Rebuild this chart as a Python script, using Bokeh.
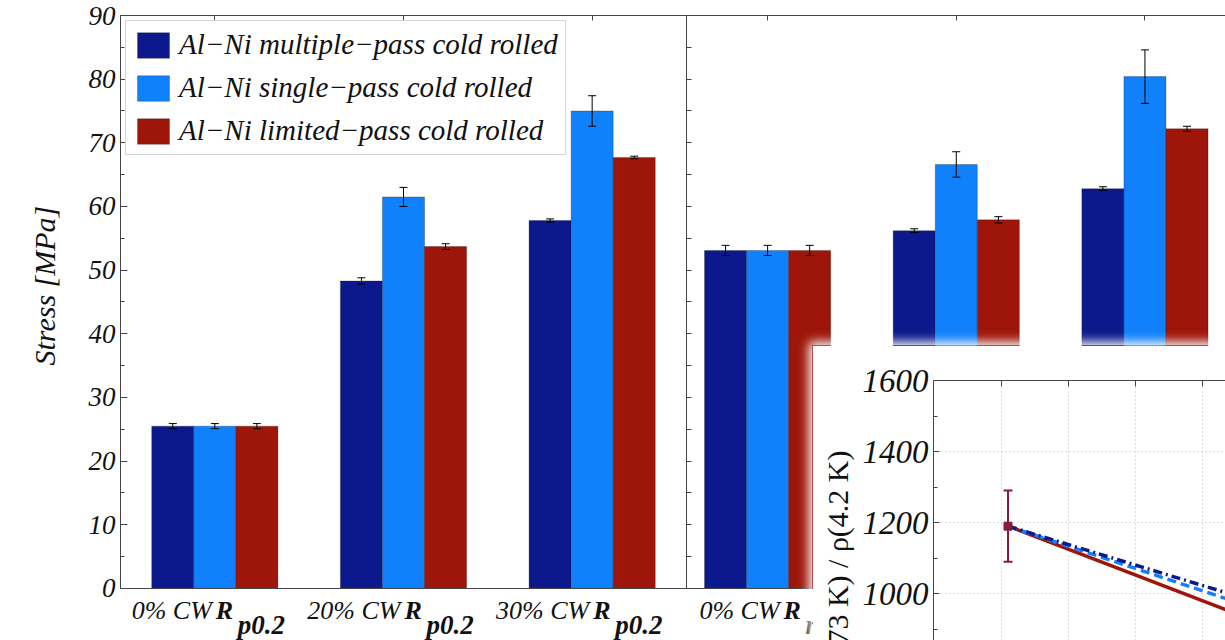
import numpy as np
from bokeh.plotting import figure
from bokeh.models import (Range1d, LinearAxis, FixedTicker, SingleIntervalTicker, ColumnDataSource,
                          Whisker, TeeHead, Span, LabelSet, Title, Grid, GridBox, CustomJSTickFormatter)
from bokeh.embed import file_html
from bokeh.resources import INLINE

FONT = "Liberation Serif"

# ---------------- data ----------------
cw_levels = ["0% CW", "20% CW", "30% CW"]
strength_sub = ["p0.2", "m"]          # R_p0.2 (left panel), R_m (right panel)
series_names = ["Al\u2212Ni multiple\u2212pass cold rolled",
                "Al\u2212Ni single\u2212pass cold rolled",
                "Al\u2212Ni limited\u2212pass cold rolled"]
series_colors = ["#0c198c", "#1080fb", "#9e160a"]

multi_vals = [25.5, 48.3, 57.8, 53.1, 56.2, 62.8]
single_vals = [25.5, 61.5, 75.0, 53.1, 66.6, 80.4]
limited_vals = [25.5, 53.7, 67.7, 53.1, 57.9, 72.2]
multi_err = [0.4, 0.5, 0.25, 0.8, 0.3, 0.3]
single_err = [0.4, 1.5, 2.4, 0.8, 2.0, 4.2]
limited_err = [0.4, 0.45, 0.2, 0.8, 0.5, 0.4]

# inset: resistivity ratio
inset_ylabel = "\u03c1(273 K) / \u03c1(4.2 K)"
inset_x = [1, 40]
inset_multi = [1190, 965]
inset_single = [1190, 945]
inset_limited = [1190, 907]
inset_err_x = [1]
inset_err_y = [1190]
inset_err = [100]

# ---------------- main bar chart ----------------
left_pos = np.arange(1, 4, dtype=float)
right_pos = np.arange(1, 4, dtype=float) + 2.93
pos = np.concatenate([left_pos, right_pos])
bar_w = 0.223
offsets = [-bar_w, 0.0, bar_w]

p = figure(width=1225, height=640, x_range=Range1d(0.5, 6.357), y_range=Range1d(-8.17, 90),
           output_backend="svg", toolbar_location=None,
           x_axis_location=None, y_axis_location=None,
           min_border_left=120, min_border_right=0, min_border_top=15, min_border_bottom=0,
           outline_line_color=None, background_fill_color="white", border_fill_color="white")
p.grid.visible = False

empty_fmt = CustomJSTickFormatter(code="return ''")

yax = LinearAxis(ticker=SingleIntervalTicker(interval=10, num_minor_ticks=2), bounds=(0, 90),
                 major_label_text_font=FONT, major_label_text_font_style="italic",
                 major_label_text_font_size="27px", major_label_text_color="#111",
                 major_label_standoff=5,
                 major_tick_in=7, major_tick_out=0, minor_tick_in=4, minor_tick_out=0,
                 axis_line_color="#444", major_tick_line_color="#444", minor_tick_line_color="#444")
p.add_layout(yax, "left")

# divider between the two panels (axis of the second panel)
div_ax = LinearAxis(ticker=SingleIntervalTicker(interval=5, num_minor_ticks=0), bounds=(0, 90),
                    fixed_location=3.5, formatter=empty_fmt, major_label_standoff=0,
                    major_tick_in=5, major_tick_out=0, minor_tick_line_color=None,
                    axis_line_color="#444", major_tick_line_color="#444")
p.add_layout(div_ax, "left")

p.add_layout(Title(text="Stress [MPa]", align="left", offset=275, standoff=50,
                   text_font=FONT, text_font_style="italic", text_font_size="30px",
                   text_color="#111"), "left")

top_ax = LinearAxis(ticker=FixedTicker(ticks=list(pos)), formatter=empty_fmt,
                    major_tick_in=5, major_tick_out=0, minor_tick_line_color=None,
                    axis_line_color="#444", major_tick_line_color="#444")
p.add_layout(top_ax, "above")

p.add_layout(Span(location=0, dimension="width", line_color="#444", line_width=1))

all_vals = [multi_vals, single_vals, limited_vals]
all_errs = [multi_err, single_err, limited_err]
for name, col, vals, errs, off in zip(series_names, series_colors, all_vals, all_errs, offsets):
    v = np.array(vals)
    e = np.array(errs)
    src = ColumnDataSource(dict(x=pos + off, top=v, upper=v + e, lower=v - e))
    p.vbar(x="x", top="top", width=bar_w, source=src, fill_color=col,
           line_color="#111", line_width=0.5, line_alpha=0.5, legend_label=name)
    p.add_layout(Whisker(source=src, base="x", upper="upper", lower="lower", dimension="height",
                         line_color="black", line_width=1, level="annotation",
                         upper_head=TeeHead(size=8, line_color="black", line_width=1),
                         lower_head=TeeHead(size=8, line_color="black", line_width=1)))

lg = p.legend[0]
lg.location = "top_left"
lg.margin = 5
lg.padding = 7
lg.spacing = 10
lg.glyph_width = 40
lg.glyph_height = 32
lg.label_height = 32
lg.label_standoff = 6
lg.label_text_font = FONT
lg.label_text_font_style = "italic"
lg.label_text_font_size = "29px"
lg.label_text_color = "#111"
lg.border_line_color = "#aaaaaa"
lg.border_line_width = 1
lg.background_fill_color = "white"
lg.background_fill_alpha = 1

# category labels: "0% CW R_p0.2", each centred as a whole on its group
panel_shift = [0] * 3 + [15] * 3     # shorter subscript in the second panel
lab_src = ColumnDataSource(dict(
    x=pos,
    cw=cw_levels * 2,
    r=["R"] * 6,
    sub=[strength_sub[0]] * 3 + [strength_sub[1]] * 3,
    y_main=[-4.8] * 6,
    y_sub=[-7.2] * 6,
    dx_cw=[s - 3 for s in panel_shift],
    dx_r=[s + 1 for s in panel_shift],
    dx_sub=[s + 23 for s in panel_shift],
))
p.add_layout(LabelSet(x="x", y="y_main", text="cw", source=lab_src, x_offset="dx_cw",
                      text_align="right", text_baseline="alphabetic", text_font=FONT,
                      text_font_style="italic", text_font_size="26px", text_color="#111"))
p.add_layout(LabelSet(x="x", y="y_main", text="r", source=lab_src, x_offset="dx_r",
                      text_align="left", text_baseline="alphabetic", text_font=FONT,
                      text_font_style="bold italic", text_font_size="26px", text_color="#111"))
p.add_layout(LabelSet(x="x", y="y_sub", text="sub", source=lab_src, x_offset="dx_sub",
                      text_align="left", text_baseline="alphabetic", text_font=FONT,
                      text_font_style="bold italic", text_font_size="27px", text_color="#111"))

# ---------------- inset ----------------
ins = figure(width=413, height=295, x_range=Range1d(-10.1, 33.4), y_range=Range1d(868, 1600),
             output_backend="svg", toolbar_location=None,
             x_axis_location=None, y_axis_location=None,
             min_border_left=121, min_border_right=0, min_border_top=35, min_border_bottom=0,
             outline_line_color=None, background_fill_color="white", border_fill_color="white",
             styles={"box-shadow": "0 0 10px 3px #ffffff"})
ins.grid.visible = False

ins_xticks = FixedTicker(ticks=[0, 10, 20, 30])
ins_yticker = SingleIntervalTicker(interval=200, num_minor_ticks=2)
ins.add_layout(Grid(dimension=0, ticker=ins_xticks, grid_line_color="#bbbbbb", grid_line_dash="1 3"))
ins.add_layout(Grid(dimension=1, ticker=ins_yticker, grid_line_color="#bbbbbb", grid_line_dash="1 3"))

iy = LinearAxis(ticker=ins_yticker, major_label_text_font=FONT, major_label_text_font_style="italic",
                major_label_text_font_size="33px", major_label_text_color="#111",
                major_label_standoff=5, major_tick_in=6, major_tick_out=0,
                minor_tick_in=4, minor_tick_out=0,
                axis_line_color="#444", major_tick_line_color="#444", minor_tick_line_color="#444")
ins.add_layout(iy, "left")
ins.add_layout(Title(text=inset_ylabel, align="right", offset=70, standoff=11,
                     text_font=FONT, text_font_size="30px", text_font_style="normal",
                     text_color="#111"), "left")
ix = LinearAxis(ticker=ins_xticks, formatter=empty_fmt, major_tick_in=6, major_tick_out=0,
                minor_tick_line_color=None, axis_line_color="#444", major_tick_line_color="#444")
ins.add_layout(ix, "above")

ins.line(inset_x, inset_limited, line_color=series_colors[2], line_width=3.5)
ins.line(inset_x, inset_single, line_color=series_colors[1], line_width=3.5, line_dash="9 5")
ins.line(inset_x, inset_multi, line_color=series_colors[0], line_width=3.5, line_dash="9 4 2 4")

ey = np.array(inset_err_y)
ee = np.array(inset_err)
esrc = ColumnDataSource(dict(x=inset_err_x, y=ey, upper=ey + ee, lower=ey - ee))
ins.add_layout(Whisker(source=esrc, base="x", upper="upper", lower="lower", dimension="height",
                       line_color="#8b1a3a", line_width=2, level="annotation",
                       upper_head=TeeHead(size=9, line_color="#8b1a3a", line_width=2),
                       lower_head=TeeHead(size=9, line_color="#8b1a3a", line_width=2)))
ins.scatter(x="x", y="y", source=esrc, marker="square", size=8, color="#8b1a3a")

layout = GridBox(children=[(p, 0, 0, 2, 2), (ins, 1, 1, 1, 1)],
                 rows=["345px", "295px"], cols=["812px", "413px"], spacing=0)

open("out.html", "w").write(file_html(layout, INLINE))
